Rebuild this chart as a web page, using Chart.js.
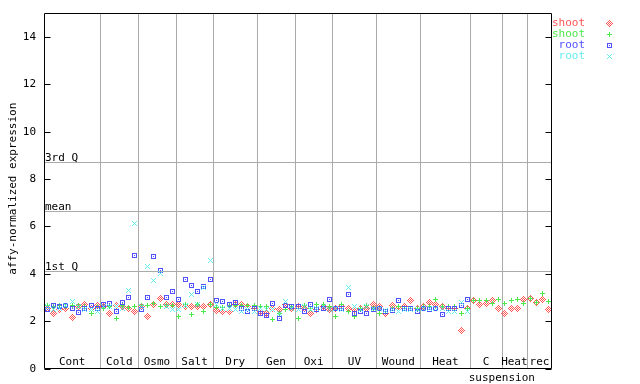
<!DOCTYPE html>
<html><head><meta charset="utf-8">
<script src="https://cdn.jsdelivr.net/npm/chart.js@4"></script>
<style>html,body{margin:0;padding:0;background:#fff;}canvas{display:block;}</style>
</head><body>
<canvas id="c" width="640" height="384"></canvas>
<script>
const groups = ['Cont','Cold','Osmo','Salt','Dry','Gen','Oxi','UV','Wound','Heat','C','Heat','rec'];
const groupSizes = [9,6,6,6,7,6,6,7,7,8,5,4,4];
const subLabel = 'suspension';
const seriesNames = ['shoot','shoot','root','root'];
const seriesColors = ['#ff5555','#4de84d','#5050ff','#66eeee'];
const yTicks = [0,2,4,6,8,10,12,14];
const refLabels = ['3rd Q','mean','1st Q'];
const refValues = [8.7, 6.63, 4.1];

const shoot1 = [
 2.55,2.30,2.50,2.55,2.15,2.63,2.72,2.55,2.65,
 2.60,2.30,2.66,2.60,2.55,2.40,
 2.60,2.20,2.70,2.97,2.72,2.72,
 2.72,2.60,2.60,2.63,2.60,2.68,
 2.45,2.42,2.42,2.70,2.72,2.63,2.54,
 2.42,2.30,2.55,2.50,2.70,2.54,
 2.60,2.54,2.30,2.50,2.63,2.50,
 2.54,2.60,2.55,2.47,2.54,2.54,2.72,
 2.60,2.30,2.65,2.54,2.63,2.85,2.55,
 2.60,2.78,2.68,2.60,2.55,2.54,1.60,2.55,
 2.85,2.72,2.75,2.85,2.55,
 2.30,2.52,2.55,2.90,
 2.97,2.80,2.90,2.50];
const shoot2 = [
 2.65,2.60,2.65,2.60,2.65,2.65,2.60,2.30,2.60,
 2.55,2.60,2.12,2.65,2.57,2.60,
 2.65,2.65,2.75,2.60,2.65,2.65,
 2.20,2.68,2.28,2.68,2.42,2.68,
 2.56,2.56,2.65,2.65,2.65,2.65,2.65,
 2.60,2.60,2.08,2.30,2.50,2.63,
 2.10,2.65,2.52,2.68,2.70,2.60,
 2.20,2.68,2.40,2.18,2.55,2.65,2.55,
 2.30,2.42,2.55,2.60,2.55,2.52,2.55,
 2.60,2.60,2.90,2.60,2.60,2.60,2.30,2.55,
 2.85,2.85,2.85,2.75,2.90,
 2.75,2.85,2.90,2.75,
 2.97,2.80,3.18,2.82];
const root1 = [
 2.50,2.65,2.60,2.65,2.55,2.38,2.55,2.66,2.55,
 2.70,2.75,2.42,2.80,3.00,4.78,
 2.50,3.00,4.74,4.12,3.00,3.23,
 2.90,3.77,3.52,3.26,3.47,3.77,
 2.85,2.83,2.70,2.80,2.52,2.40,2.52,
 2.30,2.25,2.75,2.12,2.65,2.60,
 2.60,2.42,2.72,2.50,2.55,2.92,
 2.52,2.52,3.11,2.30,2.42,2.30,2.48,
 2.52,2.42,2.44,2.88,2.52,2.52,2.40,
 2.52,2.48,2.52,2.28,2.55,2.52,2.65,2.90,
 null,null,null,null,null,
 null,null,null,null,
 null,null,null,null];
const root2 = [
 2.60,2.47,2.54,2.65,2.82,2.60,2.50,2.47,2.42,
 2.60,2.60,2.60,2.55,3.28,6.13,
 2.60,4.29,3.70,4.00,2.60,2.48,
 2.47,2.65,3.13,2.68,3.40,4.57,
 2.68,2.54,2.54,2.48,2.42,2.47,2.42,
 2.55,2.47,2.47,2.30,2.82,2.54,
 2.50,2.60,2.50,2.55,2.60,2.48,
 2.55,2.50,3.40,2.60,2.50,2.60,2.55,
 2.55,2.45,2.50,2.40,2.50,2.50,2.47,
 2.55,2.55,2.54,2.54,2.40,2.42,2.80,2.42,
 null,null,null,null,null,
 null,null,null,null,
 null,null,null,null];
const seriesValues = [shoot1, shoot2, root1, root2];
const markerKinds = ['diamond','plus','square','cross'];

const total = groupSizes.reduce((a,b)=>a+b,0);
const bounds = [0];
groupSizes.forEach(n => bounds.push(bounds[bounds.length-1] + n));

function makeMarker(kind, color){
  const s = 7, m = 3;
  const c = document.createElement('canvas'); c.width = s; c.height = s;
  const g = c.getContext('2d'); g.fillStyle = color;
  for (let yy=0; yy<s; yy++) for (let xx=0; xx<s; xx++){
    const dx = xx-m, dy = yy-m, ax = Math.abs(dx), ay = Math.abs(dy);
    let on = false;
    if (kind==='diamond'){ const d = ax+ay; on = (d===3 || d===1); }
    if (kind==='plus'){ on = (dx===0 && ay<=2) || (dy===0 && ax<=2); }
    if (kind==='square'){ const a = Math.max(ax,ay); on = (a===2 || a===0); }
    if (kind==='cross'){ on = (ax===ay && ax<=2); }
    if (on) g.fillRect(xx,yy,1,1);
  }
  return c;
}
const markers = markerKinds.map((k,i)=>makeMarker(k, seriesColors[i]));

const datasets = seriesValues.map((vals, si) => ({
  label: seriesNames[si],
  data: vals.map((v,i)=> v===null ? null : {x: i+0.5, y: v}).filter(p=>p),
  pointStyle: markers[si],
  pointRadius: 4,
  order: 4-si
}));

const FONT = '11px "DejaVu Sans Mono", monospace';

const decor = {
  id: 'decor',
  beforeDatasetsDraw(chart){
    const {ctx, chartArea:a, scales:{x, y}} = chart;
    ctx.save();
    ctx.strokeStyle = '#aaaaaa'; ctx.lineWidth = 1;
    for (let i=1; i<bounds.length-1; i++){
      const px = Math.round(x.getPixelForValue(bounds[i])) + 0.5;
      ctx.beginPath(); ctx.moveTo(px, a.top); ctx.lineTo(px, a.bottom); ctx.stroke();
    }
    ctx.font = FONT; ctx.fillStyle = '#000';
    refValues.forEach((v,i)=>{
      const py = Math.round(y.getPixelForValue(v)) + 0.5;
      ctx.beginPath(); ctx.moveTo(a.left, py); ctx.lineTo(a.right, py); ctx.stroke();
      ctx.textAlign = 'left'; ctx.textBaseline = 'alphabetic';
      ctx.fillText(refLabels[i], a.left + 1, py - 2);
    });
    ctx.textAlign = 'center'; ctx.textBaseline = 'middle';
    groups.forEach((g,i)=>{
      const cx = x.getPixelForValue((bounds[i]+bounds[i+1])/2);
      ctx.fillText(g, cx, a.bottom - 6);
    });
    ctx.restore();
    ctx.imageSmoothingEnabled = false;
  },
  afterDatasetsDraw(chart){
    const {ctx, chartArea:a, scales:{x, y}} = chart;
    ctx.save();
    ctx.strokeStyle = '#000'; ctx.lineWidth = 1;
    const L = a.left + 0.5, R = a.right - 0.5, T = a.top + 0.5, B = Math.floor(a.bottom) + 0.5;
    ctx.beginPath();
    ctx.moveTo(L, T); ctx.lineTo(R, T); ctx.lineTo(R, B); ctx.lineTo(L, B); ctx.closePath();
    ctx.stroke();
    ctx.font = FONT; ctx.fillStyle = '#000';
    ctx.textAlign = 'right'; ctx.textBaseline = 'middle';
    yTicks.forEach(t=>{
      const py = Math.round(y.getPixelForValue(t)) + 0.5;
      ctx.beginPath(); ctx.moveTo(L, py); ctx.lineTo(L + 6, py);
      ctx.moveTo(R, py); ctx.lineTo(R - 6, py); ctx.stroke();
      ctx.fillText(String(t), 36, py);
    });
    // y title
    ctx.save();
    ctx.translate(13, (a.top + a.bottom)/2 - 2);
    ctx.rotate(-Math.PI/2);
    ctx.textAlign = 'center'; ctx.textBaseline = 'middle';
    ctx.fillText('affy-normalized expression', 0, 0);
    ctx.restore();
    // sub label under C / Heat suspension
    ctx.textAlign = 'center'; ctx.textBaseline = 'middle';
    ctx.fillText(subLabel, x.getPixelForValue(bounds[11]), 378);
    // legend
    ctx.imageSmoothingEnabled = false;
    seriesNames.forEach((n,i)=>{
      const ry = 23.5 + 11*i;
      ctx.fillStyle = seriesColors[i];
      ctx.textAlign = 'right'; ctx.textBaseline = 'middle';
      ctx.fillText(n, 585, ry);
      ctx.drawImage(markers[i], 606, Math.round(ry - 3.5));
    });
    ctx.restore();
  }
};

new Chart(document.getElementById('c'), {
  type: 'scatter',
  data: { datasets },
  options: {
    responsive: false,
    animation: false,
    devicePixelRatio: 1,
    layout: { padding: { left: 44, right: 88, top: 13, bottom: 15.5 } },
    scales: {
      x: { type: 'linear', min: 0, max: total, display: false },
      y: { type: 'linear', min: 0, max: 15, display: false }
    },
    plugins: { legend: { display: false }, tooltip: { enabled: false } }
  },
  plugins: [decor]
});
</script>
</body></html>
